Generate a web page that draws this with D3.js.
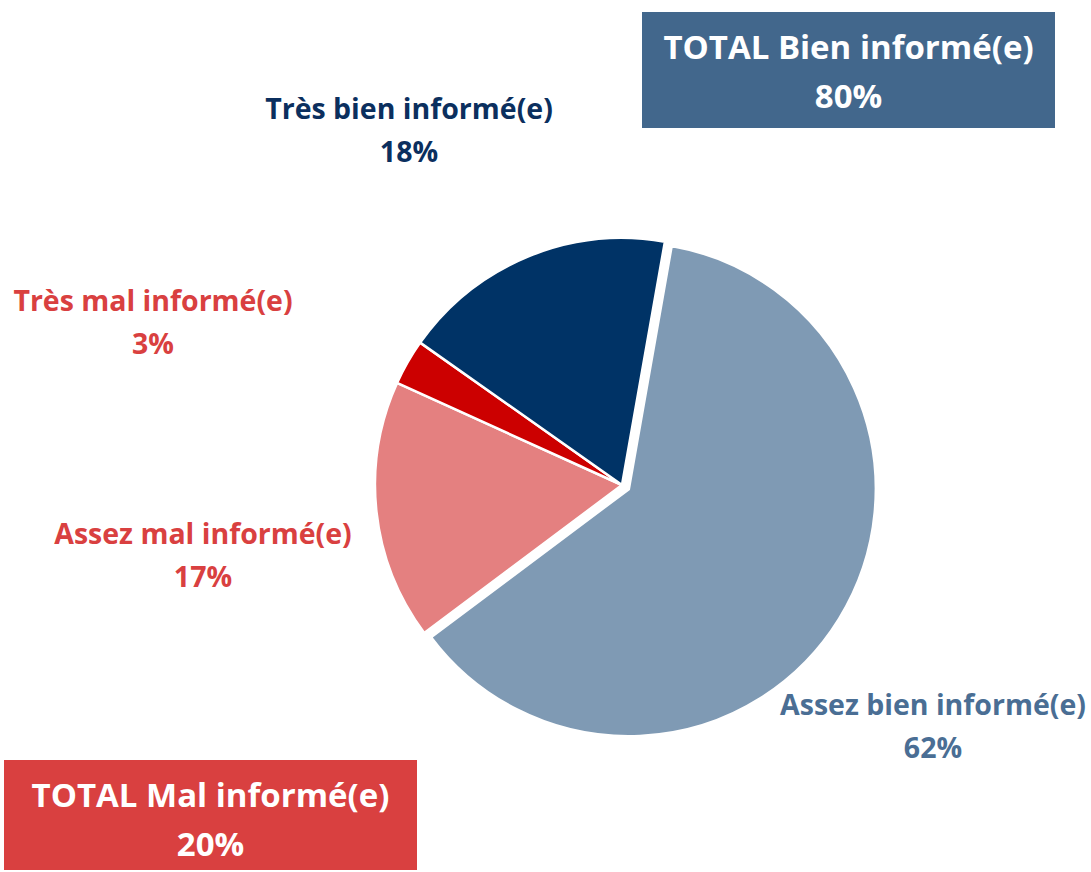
<!DOCTYPE html>
<html>
<head>
<meta charset="utf-8">
<script src="https://cdn.jsdelivr.net/npm/d3@7"></script>
<style>
  body { margin: 0; background: #fff; }
  text { font-family: "Open Sans", Lato, sans-serif; font-weight: bold; }
</style>
</head>
<body>
<div id="chart"></div>
<script>
// data, in clockwise order starting just right of 12 o'clock
var labels = ["Assez bien informé(e)", "Assez mal informé(e)", "Très mal informé(e)", "Très bien informé(e)"];
var values = [62, 17, 3, 18];
var sliceColors = ["#7f9ab4", "#e48080", "#cc0000", "#003366"];
var labelColors = ["#4a6e94", "#d94040", "#d94040", "#0b2f5e"];
var totalLabels = ["TOTAL Bien informé(e)", "TOTAL Mal informé(e)"];
var totalValues = [80, 20];
var totalColors = ["#42678c", "#d94040"];

var width = 1091;
var height = 872;

var svg = d3.select("#chart")
    .append("svg")
    .attr("width", width)
    .attr("height", height);

var cx = 622;
var cy = 485;
var radius = 247;
var startAngle = 10 * Math.PI / 180;

var pie = d3.pie()
    .sort(null)
    .startAngle(startAngle)
    .endAngle(startAngle + 2 * Math.PI)
    .value(function(d) { return d; });

var arc = d3.arc().innerRadius(0).outerRadius(radius);

var arcs = pie(values);

svg.append("g")
    .attr("transform", "translate(" + cx + "," + cy + ")")
    .selectAll("path")
    .data(arcs)
    .enter()
    .append("path")
    .attr("d", arc)
    .attr("fill", function(d, i) { return sliceColors[i]; })
    .attr("stroke", "#fff")
    .attr("stroke-width", 2.5)
    .attr("transform", function(d, i) {
        // explode the big slice a little
        if (i !== 0) return null;
        var mid = (d.startAngle + d.endAngle) / 2;
        var off = 8;
        return "translate(" + (Math.sin(mid) * off) + "," + (-Math.cos(mid) * off) + ")";
    });

// slice labels
var labelPos = [[933, 706], [203, 535], [153, 302], [409, 110]];

labels.forEach(function(l, i) {
    var g = svg.append("g")
        .attr("transform", "translate(" + labelPos[i][0] + "," + labelPos[i][1] + ")")
        .attr("fill", labelColors[i])
        .attr("text-anchor", "middle")
        .attr("font-size", 28.5);
    g.append("text").attr("y", 9).text(l);
    g.append("text").attr("y", 52).text(values[i] + "%");
});

// total boxes
var boxes = [[642, 12, 413, 116], [4, 760, 413, 110]];

totalLabels.forEach(function(l, i) {
    var b = boxes[i];
    svg.append("rect")
        .attr("x", b[0]).attr("y", b[1])
        .attr("width", b[2]).attr("height", b[3])
        .attr("fill", totalColors[i]);
    var g = svg.append("g")
        .attr("fill", "#fff")
        .attr("text-anchor", "middle")
        .attr("font-size", 33);
    g.append("text")
        .attr("x", b[0] + b[2] / 2)
        .attr("y", b[1] + 47)
        .text(l);
    g.append("text")
        .attr("x", b[0] + b[2] / 2)
        .attr("y", b[1] + 96)
        .text(totalValues[i] + "%");
});
</script>
</body>
</html>
